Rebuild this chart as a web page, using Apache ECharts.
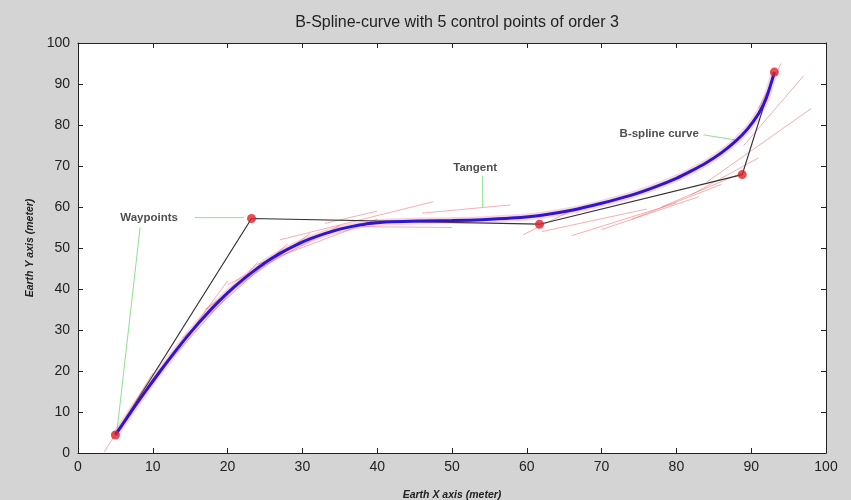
<!DOCTYPE html>
<html>
<head>
<meta charset="utf-8">
<script src="https://cdn.jsdelivr.net/npm/echarts@6/dist/echarts.min.js"></script>
<style>
  html, body { margin: 0; padding: 0; background: #d4d4d4; }
  #chart { width: 851px; height: 500px; }
</style>
</head>
<body>
<div id="chart"></div>
<script>
// Control points (waypoints) of the spline
const waypointsX = [5, 23.2, 61.7, 88.8, 93.1];
const waypointsY = [4.4, 57.2, 55.8, 67.9, 92.9];

// Sampled B-spline curve
const curveX = [5, 7, 9, 11, 13, 15, 17, 19, 21, 23, 25, 27, 29, 31, 33, 35, 37, 39, 42, 46, 50, 54, 58, 62, 66, 70, 74, 77, 80, 82, 84, 86, 88, 89.5, 91, 92, 93.1];
const curveY = [4.4, 9.8, 15.0, 20.0, 24.8, 29.3, 33.5, 37.3, 40.7, 43.7, 46.4, 48.7, 50.6, 52.2, 53.5, 54.6, 55.4, 56.0, 56.4, 56.6, 56.7, 56.9, 57.3, 58.0, 59.2, 60.9, 62.9, 64.8, 67.0, 68.8, 70.8, 73.2, 76.2, 79.0, 82.8, 86.5, 92.9];

// Tangent segments: [x1, y1, x2, y2]
const tangents = [
  [3.5, 0.2, 10, 19.5],
  [8, 12, 20, 42],
  [11, 20, 24, 46.5],
  [14, 28, 28, 51],
  [17, 35, 31, 53.5],
  [20, 41, 35, 55.5],
  [24, 46, 40, 57],
  [27, 52, 47.5, 61.3],
  [33, 56, 40, 59],
  [46, 58.5, 57.8, 60.5],
  [38, 55.2, 50, 55],
  [59.5, 53.2, 66, 59.2],
  [62, 54, 76, 59.5],
  [66, 53, 80, 61],
  [70, 54.5, 83, 62.5],
  [74, 57, 86, 65.5],
  [78, 60, 89, 68.5],
  [82, 63, 91, 72],
  [84, 66, 98, 84],
  [89, 75, 97, 92],
  [91, 84, 94, 95]
];

// Callout texts and their leader lines
const labelTexts = ['Waypoints', 'Tangent', 'B-spline curve'];
const labelX = [9.5, 53.1, 77.7];
const labelY = [57.4, 69.5, 77.8];
const leaders = [
  [15.6, 57.4, 22.2, 57.4],
  [8.3, 55, 5.2, 5.2],
  [54.1, 67.6, 54.1, 60],
  [83.6, 77.6, 88.1, 76.3]
];

const xTicks = [0, 10, 20, 30, 40, 50, 60, 70, 80, 90, 100];
const yTicks = [0, 10, 20, 30, 40, 50, 60, 70, 80, 90, 100];

const chart = echarts.init(document.getElementById('chart'));

const FONT = 'Liberation Sans, Arial, sans-serif';
const tickStyle = { color: '#222', fontSize: 14, fontFamily: FONT };
const axisCommon = {
  min: xTicks[0], max: xTicks[xTicks.length - 1], interval: 10,
  axisLine: { show: true, onZero: false, lineStyle: { color: '#222', width: 1 } },
  axisTick: { show: true, inside: true, length: 5, lineStyle: { color: '#222' } },
  splitLine: { show: false }
};
const nameStyle = { color: '#222', fontSize: 10.5, fontWeight: 'bold', fontStyle: 'italic', fontFamily: FONT };

const series = [];

// tangent lines
tangents.forEach(t => {
  series.push({
    type: 'line', silent: true, symbol: 'none',
    data: [[t[0], t[1]], [t[2], t[3]]],
    lineStyle: { color: '#f07a7a', width: 1, opacity: 0.6 },
    z: 2
  });
});

// leader lines
leaders.forEach(l => {
  series.push({
    type: 'line', silent: true, symbol: 'none',
    data: [[l[0], l[1]], [l[2], l[3]]],
    lineStyle: { color: '#8fe08f', width: 1 },
    z: 2
  });
});

// control polygon
series.push({
  type: 'line', symbol: 'none',
  data: waypointsX.map((x, i) => [x, waypointsY[i]]),
  lineStyle: { color: '#333', width: 1.2 },
  z: 3
});

// halo under the curve
series.push({
  type: 'line', symbol: 'none', smooth: 0.3,
  data: curveX.map((x, i) => [x, curveY[i]]),
  lineStyle: { color: '#e8307a', width: 7, opacity: 0.22 },
  z: 4
});

// spline curve
series.push({
  type: 'line', symbol: 'none', smooth: 0.3,
  data: curveX.map((x, i) => [x, curveY[i]]),
  lineStyle: { color: '#2a18d0', width: 3 },
  z: 5
});

// waypoint markers
series.push({
  type: 'scatter', symbol: 'circle', symbolSize: 9,
  data: waypointsX.map((x, i) => [x, waypointsY[i]]),
  itemStyle: { color: '#e0202a' },
  z: 6
});

// callout texts
series.push({
  type: 'scatter', symbolSize: 0,
  data: labelX.map((x, i) => ({ value: [x, labelY[i]], name: labelTexts[i] })),
  label: {
    show: true, position: 'inside', formatter: p => p.name,
    color: '#222', fontSize: 11.5, fontWeight: 'bold', fontFamily: FONT
  },
  z: 7
});

chart.setOption({
  backgroundColor: '#d4d4d4',
  animation: false,
  title: {
    text: 'B-Spline-curve with 5 control points of order 3',
    left: 452, top: 10, textAlign: 'center',
    textStyle: { color: '#222', fontSize: 16, fontWeight: 'normal', fontFamily: FONT }
  },
  grid: {
    left: 78, right: 25, top: 43, bottom: 47,
    outerBoundsMode: 'none', containLabel: false,
    show: true, backgroundColor: '#ffffff', borderWidth: 0
  },
  xAxis: [
    Object.assign({}, axisCommon, {
      type: 'value', position: 'bottom',
      name: 'Earth X axis (meter)', nameLocation: 'middle', nameGap: 37,
      nameTextStyle: nameStyle,
      axisLabel: Object.assign({ margin: 7 }, tickStyle)
    }),
    Object.assign({}, axisCommon, {
      type: 'value', position: 'top', axisLabel: { show: false }
    })
  ],
  yAxis: [
    Object.assign({}, axisCommon, {
      type: 'value', position: 'left',
      min: yTicks[0], max: yTicks[yTicks.length - 1],
      name: 'Earth Y axis (meter)', nameLocation: 'middle', nameGap: 42, nameRotate: 90,
      nameTextStyle: nameStyle,
      axisLabel: Object.assign({ margin: 8 }, tickStyle)
    }),
    Object.assign({}, axisCommon, {
      type: 'value', position: 'right',
      min: yTicks[0], max: yTicks[yTicks.length - 1],
      axisLabel: { show: false }
    })
  ],
  series: series
});
</script>
</body>
</html>
